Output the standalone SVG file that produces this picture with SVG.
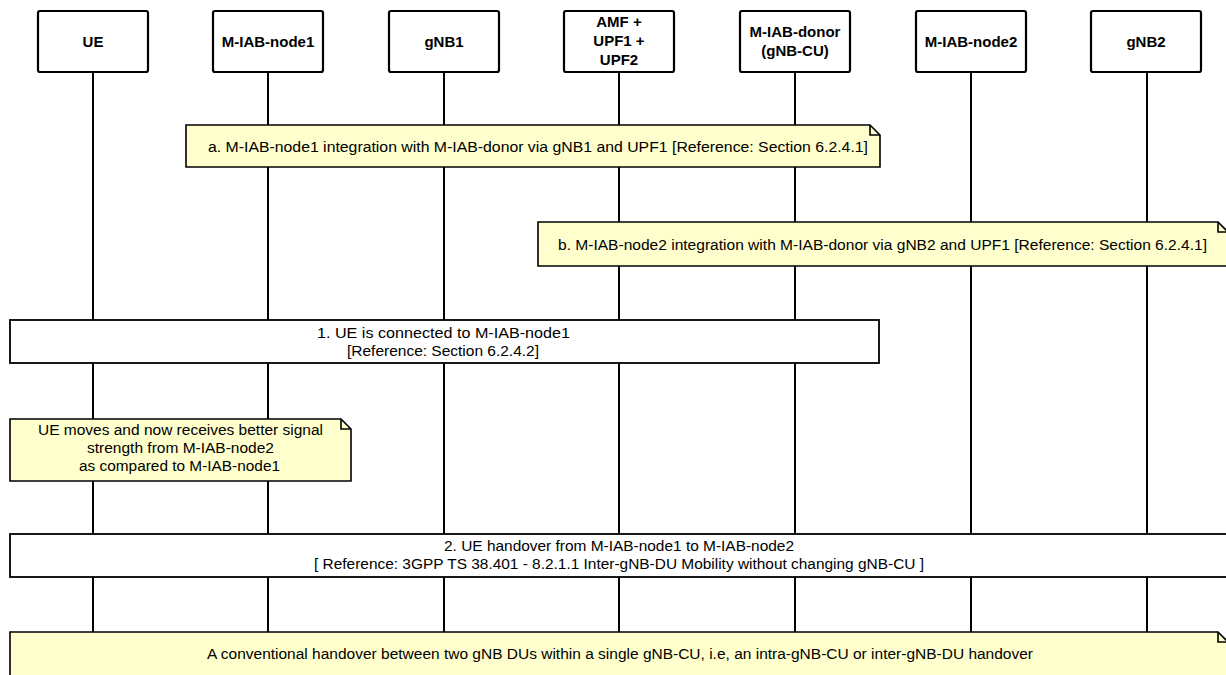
<svg xmlns="http://www.w3.org/2000/svg" width="1226" height="675" viewBox="0 0 1226 675">
  <style>
    .bg { fill: #ffffff; }
    .life { stroke: #000000; stroke-width: 2; fill: none; }
    .head { fill: #ffffff; stroke: #000000; stroke-width: 2.2; }
    .head-t { font-family: "Liberation Sans", Arial, sans-serif; font-size: 15px; font-weight: bold; fill: #000000; text-anchor: middle; }
    .note { fill: #ffffcd; stroke: #000000; stroke-width: 1.6; stroke-linejoin: miter; }
    .fold { fill: none; stroke: #000000; stroke-width: 1.6; }
    .box { fill: #ffffff; stroke: #000000; stroke-width: 1.8; }
    .t { font-family: "Liberation Sans", Arial, sans-serif; font-size: 14px; fill: #000000; text-anchor: start; }
  </style>

  <rect class="bg" x="0" y="0" width="1226" height="675"/>

  <!-- lifelines -->
  <g id="connectors">
    <line class="life" x1="93" y1="72" x2="93" y2="675"/>
    <line class="life" x1="268" y1="72" x2="268" y2="675"/>
    <line class="life" x1="444" y1="72" x2="444" y2="675"/>
    <line class="life" x1="619" y1="72" x2="619" y2="675"/>
    <line class="life" x1="795" y1="72" x2="795" y2="675"/>
    <line class="life" x1="971" y1="72" x2="971" y2="675"/>
    <line class="life" x1="1147" y1="72" x2="1147" y2="675"/>
  </g>

  <!-- participants -->
  <g id="ue">
    <rect class="head" x="38" y="11" width="110" height="61" rx="2"/>
    <text class="head-t" x="93" y="47">UE</text>
  </g>
  <g id="m-iab-node1">
    <rect class="head" x="213" y="11" width="110" height="61" rx="2"/>
    <text class="head-t" x="268" y="47">M-IAB-node1</text>
  </g>
  <g id="gnb1">
    <rect class="head" x="389" y="11" width="110" height="61" rx="2"/>
    <text class="head-t" x="444" y="47">gNB1</text>
  </g>
  <g id="amf-upf">
    <rect class="head" x="564" y="11" width="110" height="61" rx="2"/>
    <text class="head-t" x="619" y="27">AMF +</text>
    <text class="head-t" x="619" y="46">UPF1 +</text>
    <text class="head-t" x="619" y="65">UPF2</text>
  </g>
  <g id="m-iab-donor">
    <rect class="head" x="740" y="11" width="110" height="61" rx="2"/>
    <text class="head-t" x="795" y="37">M-IAB-donor</text>
    <text class="head-t" x="795" y="56">(gNB-CU)</text>
  </g>
  <g id="m-iab-node2">
    <rect class="head" x="916" y="11" width="110" height="61" rx="2"/>
    <text class="head-t" x="971" y="47">M-IAB-node2</text>
  </g>
  <g id="gnb2">
    <rect class="head" x="1091" y="11" width="110" height="61" rx="2"/>
    <text class="head-t" x="1146" y="47">gNB2</text>
  </g>

  <!-- note a -->
  <g id="note-a">
    <path class="note" d="M186,125 H870 L880,135 V167 H186 Z"/>
    <path class="fold" d="M870,125 V135 H880"/>
    <text class="t" x="208" y="152" textLength="660" lengthAdjust="spacingAndGlyphs">a. M-IAB-node1 integration with M-IAB-donor via gNB1 and UPF1 [Reference: Section 6.2.4.1]</text>
  </g>

  <!-- note b -->
  <g id="note-b">
    <path class="note" d="M538,222 H1218 L1228,232 V266 H538 Z"/>
    <path class="fold" d="M1218,222 V232 H1228"/>
    <text class="t" x="558" y="250" textLength="649" lengthAdjust="spacingAndGlyphs">b. M-IAB-node2 integration with M-IAB-donor via gNB2 and UPF1 [Reference: Section 6.2.4.1]</text>
  </g>

  <!-- step 1 -->
  <g id="step-1">
    <rect class="box" x="10" y="320" width="869" height="43"/>
    <text class="t" x="317" y="338" textLength="253" lengthAdjust="spacingAndGlyphs">1. UE is connected to M-IAB-node1</text>
    <text class="t" x="347" y="356" textLength="192" lengthAdjust="spacingAndGlyphs">[Reference: Section 6.2.4.2]</text>
  </g>

  <!-- UE movement note -->
  <g id="note-ue">
    <path class="note" d="M10,419 H341 L351,429 V481 H10 Z"/>
    <path class="fold" d="M341,419 V429 H351"/>
    <text class="t" x="38" y="435" textLength="285" lengthAdjust="spacingAndGlyphs">UE moves and now receives better signal</text>
    <text class="t" x="87" y="453" textLength="187" lengthAdjust="spacingAndGlyphs">strength from M-IAB-node2</text>
    <text class="t" x="79" y="471" textLength="201" lengthAdjust="spacingAndGlyphs">as compared to M-IAB-node1</text>
  </g>

  <!-- step 2 -->
  <g id="step-2">
    <rect class="box" x="10" y="534" width="1220" height="43"/>
    <text class="t" x="444" y="551" textLength="350" lengthAdjust="spacingAndGlyphs">2. UE handover from M-IAB-node1 to M-IAB-node2</text>
    <text class="t" x="314" y="569" textLength="610" lengthAdjust="spacingAndGlyphs">[ Reference: 3GPP TS 38.401 - 8.2.1.1 Inter-gNB-DU Mobility without changing gNB-CU ]</text>
  </g>

  <!-- handover note -->
  <g id="note-handover">
    <path class="note" d="M10,632 H1218 L1228,642 V690 H10 Z"/>
    <path class="fold" d="M1218,632 V642 H1228"/>
    <text class="t" x="207" y="659" textLength="826" lengthAdjust="spacingAndGlyphs">A conventional handover between two gNB DUs within a single gNB-CU, i.e, an intra-gNB-CU or inter-gNB-DU handover</text>
  </g>
</svg>
